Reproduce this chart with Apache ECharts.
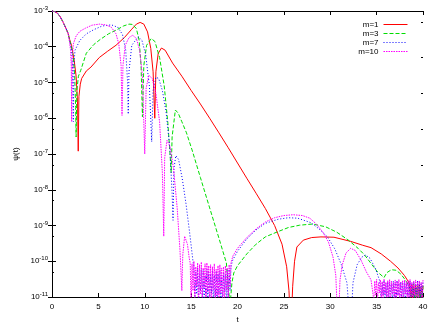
<!DOCTYPE html>
<html lang="en">
<head>
    <meta charset="UTF-8"/>
    <title>psi(t)</title>
    <script src="https://cdn.jsdelivr.net/npm/echarts@6/dist/echarts.min.js"></script>
    <style>
        html, body { margin: 0; padding: 0; background: #fff; }
    </style>
</head>
<body>
<div id="main" style="width: 436px;height:327px;"></div>
<script type="text/javascript">
    // legend names
    var names = ['m=1', 'm=3', 'm=7', 'm=10'];
    var xTicks = [0, 5, 10, 15, 20, 25, 30, 35, 40];
    var minorTickVals = [5e-11, 5e-10, 5e-9, 5e-8, 5e-7, 5e-6, 5e-5, 5e-4];

    // all curves start the same
    var start = [[0, 1e-3], [0.3, 9.6e-4], [0.6, 8.6e-4], [0.9, 6.8e-4], [1.2, 4.8e-4], [1.5, 3.3e-4], [1.75, 2.3e-4]];

    // m=1
    var m1Head = [[1.9, 1.6e-4], [2.1, 1.1e-4], [2.4, 4e-5], [2.6, 1.5e-5], [2.75, 3e-6], [2.83, 1.2e-7], [2.9, 4e-6],
        [3.05, 9e-6], [3.2, 1.3e-5], [3.7, 2.1e-5], [4.2, 2.7e-5], [5.1, 5e-5], [6.0, 7.5e-5], [6.9, 1.1e-4],
        [7.8, 1.8e-4], [8.6, 3.1e-4], [9.1, 4.3e-4], [9.5, 4.8e-4], [9.9, 4.3e-4], [10.3, 2.6e-4], [10.65, 9e-5],
        [10.9, 2e-5], [11.08, 1e-6], [11.2, 2e-5], [11.45, 6.5e-5], [11.8, 9.2e-5], [12.2, 8e-5], [13.0, 3.5e-5],
        [14.0, 1.5e-5], [15.0, 6e-6], [16.0, 2.5e-6], [17.0, 1e-6], [18.0, 3.9e-7], [19.0, 1.5e-7], [20.0, 5.6e-8],
        [21.0, 2.1e-8], [22.0, 8e-9], [23.0, 3e-9], [24.0, 1e-9], [24.8, 3e-10], [25.3, 7e-11], [25.55, 1.5e-11],
        [25.75, 1e-12], [25.95, 2e-11], [26.15, 1e-10], [26.4, 2.5e-10], [27.1, 3.9e-10], [28.0, 4.6e-10],
        [29.0, 4.8e-10], [30.4, 4.7e-10], [32.2, 3.6e-10], [33.5, 2.8e-10], [34.4, 2.4e-10], [35.5, 1.6e-10],
        [36.5, 1e-10], [37.3, 6.5e-11], [38.0, 4e-11], [38.5, 2.5e-11]];
    var m1Noise = [2.0, 0.9, 2.2, 0.7, 1.9, 1.1, 2.1, 0.8, 2.0, 1.0, 2.2, 0.7, 1.8, 1.0, 2.0];

    // m=3
    var m3Head = [[1.9, 1.5e-4], [2.1, 1e-4], [2.3, 5e-5], [2.45, 1.5e-5], [2.55, 2e-6], [2.6, 3e-7], [2.68, 6e-6],
        [2.85, 1.5e-5], [3.1, 2.2e-5], [3.7, 6.6e-5], [4.5, 1.15e-4], [5.2, 1.6e-4], [6.1, 2.3e-4], [7.0, 3e-4],
        [7.7, 3.8e-4], [8.3, 4.3e-4], [8.7, 4.2e-4], [9.1, 3.2e-4], [9.4, 1.5e-4], [9.6, 3e-5], [9.75, 1.1e-6],
        [9.9, 3e-5], [10.2, 1.1e-4], [10.7, 1.7e-4], [11.1, 1.4e-4], [11.6, 5e-5], [12.1, 8e-6], [12.5, 7e-7],
        [12.75, 8e-8], [12.85, 3e-8], [12.95, 3e-7], [13.3, 1.7e-6], [13.6, 1.4e-6], [14.0, 8e-7], [14.5, 3.9e-7],
        [15.1, 1.3e-7], [16.0, 2.2e-8], [17.0, 3.1e-9], [18.0, 4.4e-10], [18.8, 9e-11], [19.0, 2e-11],
        [19.2, 6e-12], [19.4, 2.5e-11], [19.6, 4.7e-11], [20.0, 7.5e-11], [21.0, 1.6e-10], [22.0, 3e-10],
        [23.0, 4.8e-10], [24.4, 6.8e-10], [25.5, 8.8e-10], [26.7, 1.02e-9], [28.1, 1.1e-9], [29.5, 9.2e-10],
        [30.7, 6.5e-10], [31.9, 4e-10], [33.0, 2.3e-10], [33.7, 1.5e-10], [34.5, 8e-11], [35.1, 5e-11],
        [35.8, 3.5e-11], [36.1, 4.8e-11], [36.6, 5.8e-11], [37.1, 5.6e-11], [37.6, 4.4e-11], [38.1, 3e-11],
        [38.5, 2e-11]];
    var m3Noise = [2.2, 0.8, 2.0, 1.1, 2.3, 0.7, 1.9, 1.0, 2.1, 0.8, 2.2, 0.9, 2.0, 0.7, 2.1];

    // m=7
    var m7Head = [[1.9, 1.5e-4], [2.1, 8e-5], [2.22, 2.5e-5], [2.3, 8e-7], [2.36, 3e-5], [2.48, 8e-5], [3.0, 1.5e-4],
        [3.7, 2.3e-4], [4.5, 3e-4], [5.4, 3.8e-4], [6.4, 4.1e-4], [7.1, 3.5e-4], [7.6, 2.2e-4], [7.95, 8e-5],
        [8.15, 1e-5], [8.22, 1.3e-6], [8.3, 2e-5], [8.6, 1.1e-4], [9.3, 1.9e-4], [9.7, 1.5e-4], [10.1, 6e-5],
        [10.5, 8e-6], [10.75, 2.2e-7], [10.9, 6e-6], [11.2, 1.4e-5], [11.5, 1.3e-5], [11.9, 6e-6], [12.3, 1.5e-6],
        [12.7, 1.5e-7], [12.95, 8e-9], [13.05, 1.4e-9], [13.15, 4e-8], [13.35, 9e-8], [13.65, 7e-8], [14.05, 2e-8],
        [14.45, 4e-9], [14.85, 6e-10], [15.2, 1e-10]];
    var m7NoiseA = [7, 0.6, 5, 1.2, 6.5, 0.5, 4.5, 1.5, 6, 0.8, 5.5, 0.5, 4, 1.1, 6, 0.7, 5, 0.5, 4.5, 1.3,
        5.5, 0.6, 4, 0.9, 5, 0.5, 4.5, 1.2, 5.5, 0.7, 4, 0.5, 5, 1.4, 4.5, 0.6, 5.5, 0.8, 6, 1.5, 7, 9];
    var m7Mid = [[19.5, 1.1e-10], [20.0, 1.9e-10], [21.0, 4.2e-10], [22.0, 7.5e-10], [23.0, 1.15e-9], [24.4, 1.5e-9],
        [25.5, 1.65e-9], [26.5, 1.6e-9], [27.9, 1.2e-9], [28.8, 8e-10], [29.7, 4.8e-10], [30.5, 2.2e-10],
        [31.2, 8e-11], [31.8, 2.5e-11], [32.2, 1e-12], [32.45, 2.5e-11], [32.9, 8e-11], [33.4, 1.3e-10],
        [33.8, 1.5e-10], [34.3, 1.2e-10], [34.9, 6e-11], [35.3, 3e-11]];
    var m7NoiseB = [2.8, 0.7, 2.5, 1.1, 2.9, 0.8, 2.4, 1.0, 2.7, 0.6, 2.6, 1.2, 2.3, 0.8, 2.8, 0.9, 2.5, 0.7, 2.9, 1.1,
        2.4, 0.6, 2.7, 1.0, 2.5, 0.8, 2.8, 0.7, 2.4, 1.1, 2.6, 0.9, 2.8, 0.6, 2.5, 1.0, 2.7, 0.8, 2.4, 1.2,
        2.9, 0.7, 2.6, 0.9, 2.5, 1.0, 2.7];

    // m=10
    var m10Head = [[1.9, 1.3e-4], [2.0, 8e-5], [2.08, 3e-5], [2.12, 8e-7], [2.17, 4e-5], [2.3, 1.2e-4], [2.6, 2e-4],
        [3.0, 2.7e-4], [3.6, 3.3e-4], [4.3, 4e-4], [5.1, 4.3e-4], [5.8, 4.1e-4], [6.4, 3.5e-4], [6.9, 2.3e-4],
        [7.2, 1.2e-4], [7.45, 3e-5], [7.55, 1.2e-6], [7.65, 3e-5], [7.9, 1.1e-4], [8.3, 1.8e-4], [8.7, 2.1e-4],
        [9.1, 1.7e-4], [9.45, 8e-5], [9.75, 1.5e-5], [10.0, 1e-7], [10.15, 7e-6], [10.45, 1.6e-5], [10.8, 1.3e-5],
        [11.2, 5e-6], [11.6, 8e-7], [11.9, 3e-8], [12.05, 5e-10], [12.15, 8e-8], [12.4, 2.4e-7], [12.7, 1.7e-7],
        [13.1, 4e-8], [13.5, 3e-9], [13.8, 2e-10], [14.0, 1.5e-11], [14.1, 1.5e-10], [14.3, 5e-10], [14.6, 3e-10],
        [14.8, 1.2e-10]];
    var m10NoiseA = [9, 0.6, 8.5, 1.5, 10, 0.8, 7, 2, 9, 0.5, 8, 1.2, 9.5, 0.7, 6.5, 1.8, 8.5, 0.6, 9, 1.4,
        7.5, 0.9, 8, 0.5, 7, 1.6, 8.5, 0.7, 6, 1.1, 7.5, 0.5, 8, 1.3, 6.5, 0.8, 7, 0.6, 7.5, 1.5,
        6.5, 0.7, 8, 1.9, 9];
    var m10Mid = [[19.5, 1.4e-10], [20.0, 2.3e-10], [21.0, 4.6e-10], [22.0, 8e-10], [23.0, 1.25e-9], [24.0, 1.65e-9],
        [25.0, 1.9e-9], [26.0, 2e-9], [27.0, 1.9e-9], [27.8, 1.6e-9], [28.5, 1.1e-9], [29.2, 6.5e-10],
        [29.8, 3.5e-10], [30.3, 1.3e-10], [30.6, 4e-11], [30.85, 1e-12], [31.05, 3e-11], [31.3, 8e-11],
        [31.7, 1.7e-10], [32.2, 2.3e-10], [32.7, 2e-10], [33.3, 1.1e-10], [33.9, 5e-11], [34.4, 3e-11]];
    var m10NoiseB = [3, 0.8, 2.8, 1.1, 3.1, 0.7, 2.5, 1.3, 3, 0.9, 2.7, 0.6, 3.2, 1.2, 2.6, 0.8, 2.9, 1.0, 3.1, 0.7,
        2.8, 1.2, 2.5, 0.9, 3.0, 0.6, 2.7, 1.1, 3.1, 0.8, 2.6, 1.0, 2.9, 0.7, 3.0, 1.2, 2.7, 0.8, 2.9, 0.6,
        3.1, 1.0, 2.6, 0.8, 2.8, 1.1, 3.0, 0.7, 2.7, 0.9, 2.9, 1.2, 2.6, 0.8, 3.0];

    // noise values are listed in units of 1e-11, one every 0.1 in t
    function noise(t0, vals) {
        var out = [];
        for (var i = 0; i < vals.length; i++) {
            out.push([Math.round((t0 + i * 0.1) * 100) / 100, vals[i] * 1e-11]);
        }
        return out;
    }

    var m1 = start.concat(m1Head, noise(38.6, m1Noise));
    var m3 = start.concat(m3Head, noise(38.6, m3Noise));
    var m7 = start.concat(m7Head, noise(15.3, m7NoiseA), m7Mid, noise(35.4, m7NoiseB));
    var m10 = start.concat(m10Head, noise(14.9, m10NoiseA), m10Mid, noise(34.6, m10NoiseB));

    var font = 'Liberation Sans, Arial, sans-serif';
    var black = '#000';
    var colors = ['#ff0000', '#00dd00', '#0000ff', '#ff00ff'];
    var dashes = ['solid', [4, 2], [1, 2], [1.5, 1]];

    function line(i, data) {
        return {
            name: names[i],
            type: 'line',
            data: data,
            symbol: 'none',
            showSymbol: false,
            clip: true,
            lineStyle: {color: colors[i], width: 1, type: dashes[i]},
            itemStyle: {color: colors[i]},
            z: 2
        };
    }

    var legendData = names.map(function (n, i) {
        return {
            name: n,
            itemStyle: {opacity: 0},
            lineStyle: {color: colors[i], width: 1, type: dashes[i], opacity: 1}
        };
    });

    var myChart = echarts.init(document.getElementById('main'));

    var option = {
        animation: false,
        backgroundColor: '#fff',
        textStyle: {fontFamily: font},
        grid: {left: 52, right: 13, top: 11, bottom: 30, outerBoundsMode: 'none'},
        legend: {
            orient: 'vertical',
            right: 23,
            top: 15,
            align: 'right',
            itemWidth: 24,
            itemHeight: 9,
            itemGap: 0,
            data: legendData,
            textStyle: {fontSize: 8, color: black, fontFamily: font, lineHeight: 9}
        },
        xAxis: [{
            type: 'value', min: 0, max: 40, interval: 5, position: 'bottom',
            name: 't', nameLocation: 'middle', nameGap: 18,
            nameTextStyle: {fontSize: 8, color: black, fontFamily: font},
            axisLine: {lineStyle: {color: black, width: 1}},
            axisTick: {inside: true, length: 4, lineStyle: {color: black}},
            axisLabel: {fontSize: 8, color: black, margin: 6, fontFamily: font,
                formatter: function (v) { return xTicks.indexOf(v) >= 0 ? String(v) : ''; }},
            splitLine: {show: false}
        }, {
            type: 'value', min: 0, max: 40, interval: 5, position: 'top',
            axisLine: {show: true, lineStyle: {color: black, width: 1}},
            axisTick: {inside: true, length: 4, lineStyle: {color: black}},
            axisLabel: {show: false},
            splitLine: {show: false}
        }],
        yAxis: [{
            type: 'log', logBase: 10, min: 1e-11, max: 1e-3, splitNumber: 8, position: 'left',
            name: 'ψ(t)', nameLocation: 'middle', nameRotate: 90, nameGap: 19,
            nameTextStyle: {fontSize: 8, color: black, fontFamily: font},
            axisLine: {show: true, lineStyle: {color: black, width: 1}},
            axisTick: {inside: true, length: 4, lineStyle: {color: black}},
            axisLabel: {
                margin: 4, color: black, fontSize: 8, fontFamily: font,
                formatter: function (v) {
                    return '10{sup|' + Math.round(Math.log10(v)) + '}';
                },
                rich: {sup: {fontSize: 6, verticalAlign: 'top', color: black, fontFamily: font, padding: [0, 0, 5, 0]}}
            },
            splitLine: {show: false}
        }, {
            type: 'log', logBase: 10, min: 1e-11, max: 1e-3, splitNumber: 8, position: 'right',
            axisLine: {show: true, lineStyle: {color: black, width: 1}},
            axisTick: {inside: true, length: 4, lineStyle: {color: black}},
            axisLabel: {show: false},
            splitLine: {show: false}
        }, {
            type: 'log', logBase: 10, min: 1e-11, max: 1e-3, position: 'left',
            axisLine: {show: false},
            axisTick: {inside: true, length: 2, customValues: minorTickVals, lineStyle: {color: black}},
            axisLabel: {show: false},
            splitLine: {show: false}
        }, {
            type: 'log', logBase: 10, min: 1e-11, max: 1e-3, position: 'right',
            axisLine: {show: false},
            axisTick: {inside: true, length: 2, customValues: minorTickVals, lineStyle: {color: black}},
            axisLabel: {show: false},
            splitLine: {show: false}
        }],
        series: [
            line(0, m1),
            line(1, m3),
            line(2, m7),
            line(3, m10)
        ]
    };

    myChart.setOption(option);
</script>
</body>
</html>
